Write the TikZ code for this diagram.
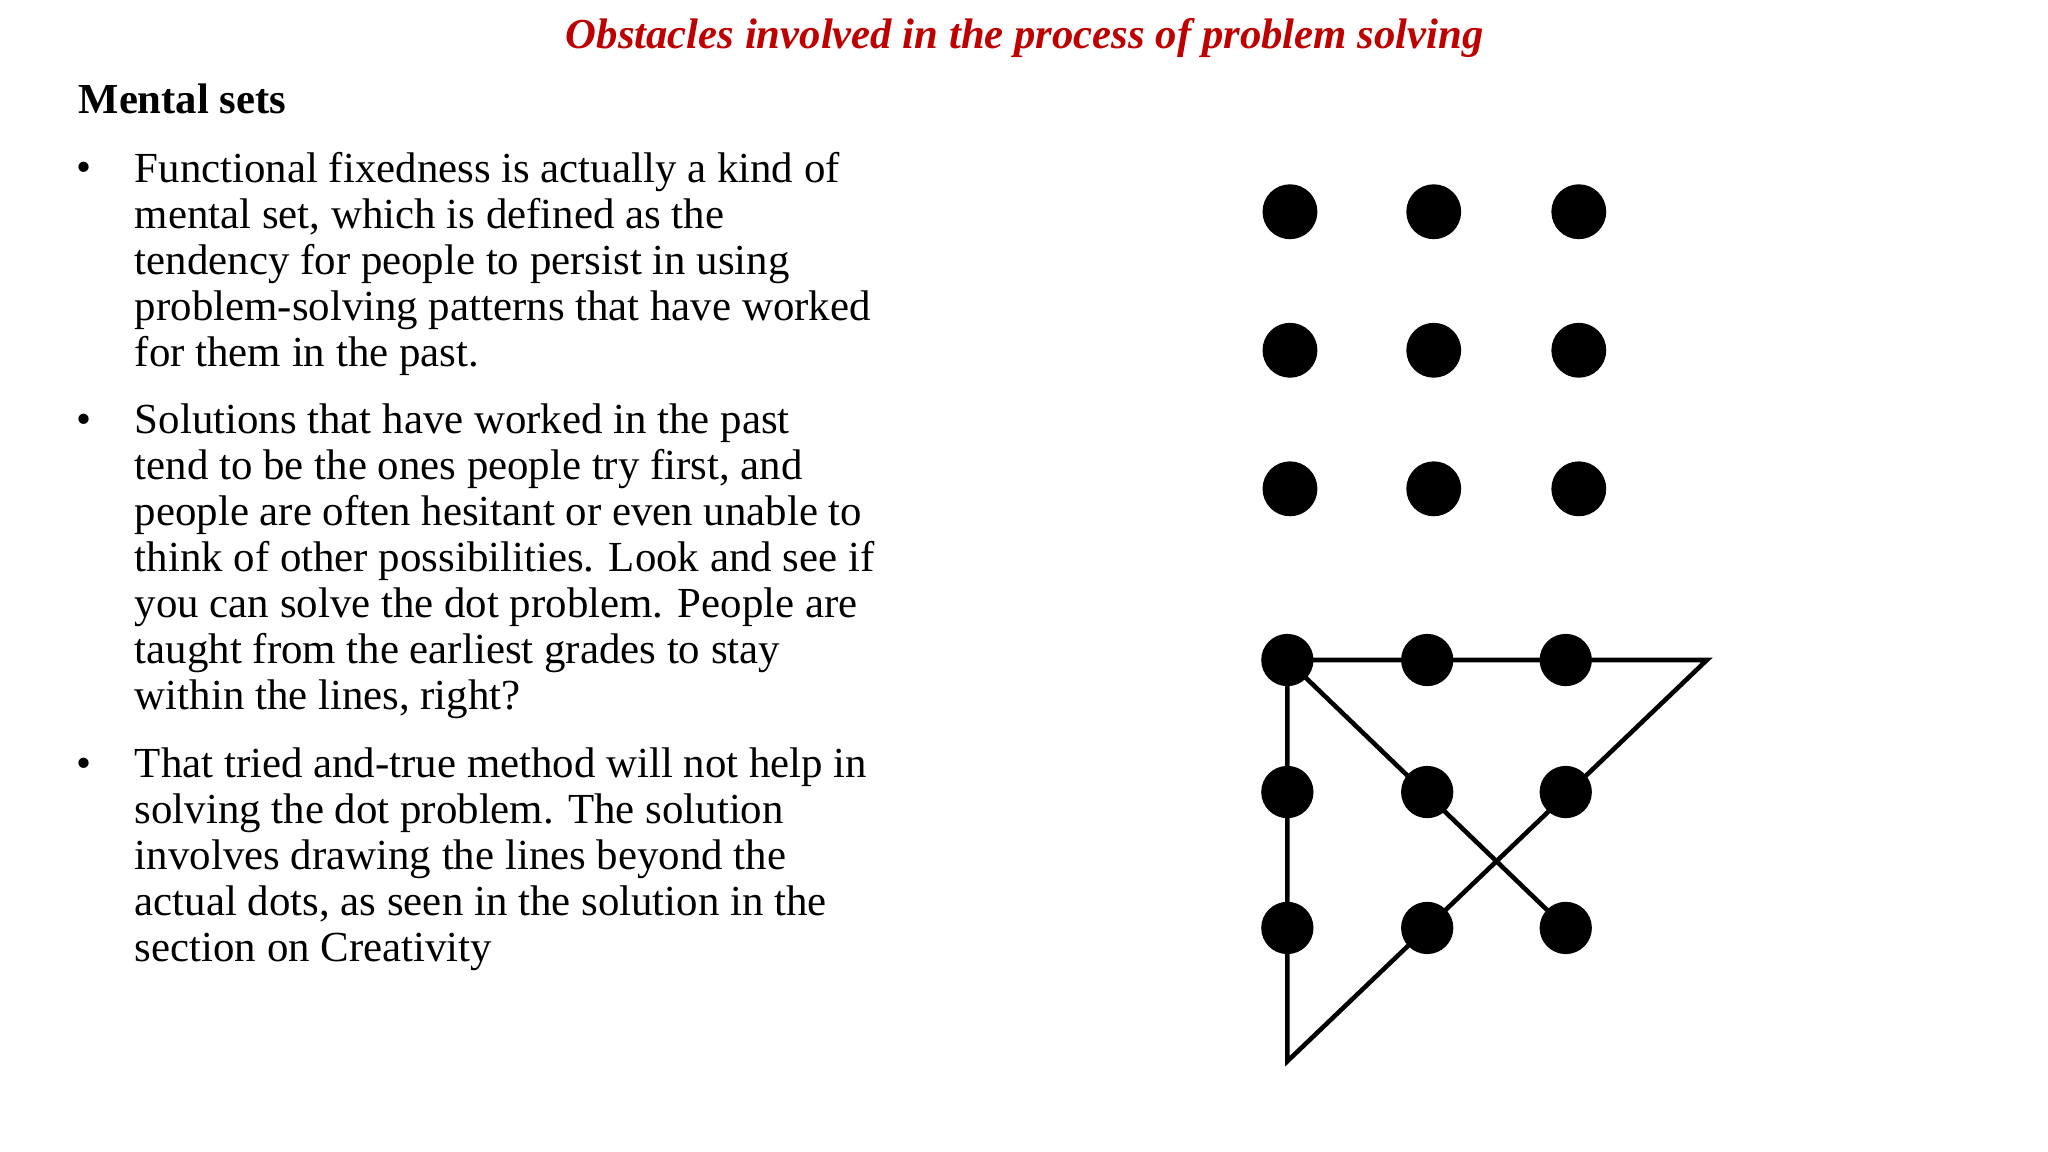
\documentclass[tikz,border=0pt]{standalone}
\usepackage{fontspec}
\setmainfont{Liberation Serif}
\begin{document}
\begin{tikzpicture}[x=1pt,y=-1pt,
  body/.style={inner sep=0pt,anchor=north west,align=left,font=\fontsize{32.8}{35.2}\selectfont},
  bul/.style={inner sep=0pt,anchor=base west,font=\fontsize{32.8}{35.2}\selectfont},
  dotA/.style={circle,fill=black,minimum size=42pt,inner sep=0pt},
  dotB/.style={circle,fill=black,minimum size=40pt,inner sep=0pt},
  sol/.style={line width=3.5pt}]
\useasboundingbox (0,0) rectangle (1567,881.4);
\node[inner sep=0pt,anchor=base,text=red!75!black,font=\fontsize{32.7}{36}\selectfont\bfseries\itshape] (title) at (784,37) {Obstacles involved in the process of problem solving};
\node[inner sep=0pt,anchor=base west,font=\fontsize{32.7}{35}\selectfont\bfseries] (head) at (60,87) {Mental sets};
\node[bul] (b1) at (58,139) {•};
\node[bul] (b2) at (58,332) {•};
\node[bul] (b3) at (58,595) {•};
\node[body] (t1) at (103,116) {Functional fixedness is actually a kind of\\mental set, which is defined as the\\tendency for people to persist in using\\problem-solving patterns that have worked\\for them in the past.};
\node[body] (t2) at (103,309) {Solutions that have worked in the past\\tend to be the ones people try first, and\\people are often hesitant or even unable to\\think of other possibilities. Look and see if\\you can solve the dot problem. People are\\taught from the earliest grades to stay\\within the lines, right?};
\node[body] (t3) at (103,572) {That tried and-true method will not help in\\solving the dot problem. The solution\\involves drawing the lines beyond the\\actual dots, as seen in the solution in the\\section on Creativity};
\foreach \i/\x in {1/987,2/1097,3/1208}
  \foreach \j/\y in {1/162,2/268,3/374}
    \node[dotA] (p\i\j) at (\x,\y) {};
\foreach \i/\x in {1/985,2/1092,3/1198}
  \foreach \j/\y in {1/505,2/606,3/710}
    \node[dotB] (q\i\j) at (\x,\y) {};
\coordinate (r) at (1306,505);
\coordinate (bt) at (985,812);
\draw[sol,line join=miter] (q11.center) -- (r) -- (bt) -- (q11.center) -- (q33.center);
\end{tikzpicture}
\end{document}
